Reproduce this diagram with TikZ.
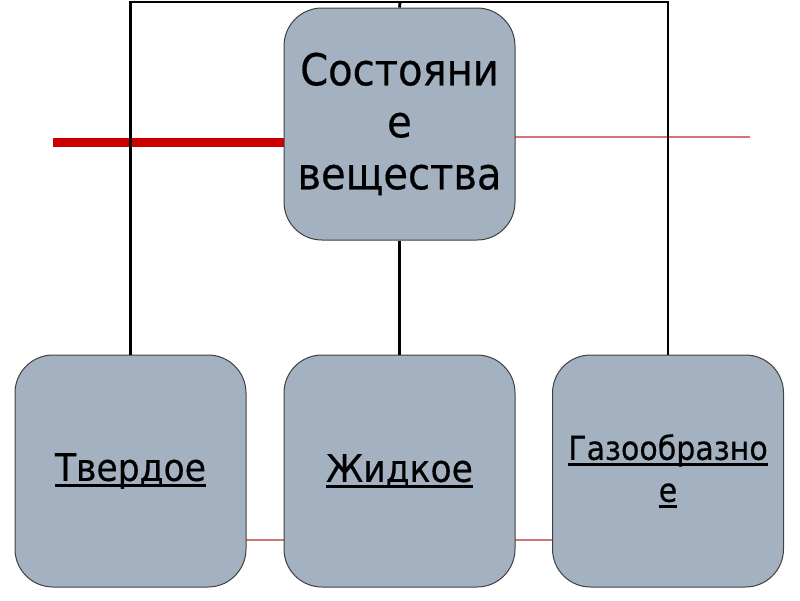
\documentclass[tikz,border=0pt]{standalone}
\usepackage{fontspec}
\newfontfamily\boxfont[FakeStretch=0.91, FakeBold=0.4]{DejaVu Sans}
\usepackage{tikz}
\usetikzlibrary{positioning, calc}

\definecolor{boxfill}{HTML}{A3B1C0}
\definecolor{boxline}{HTML}{404040}
\definecolor{thickred}{HTML}{CC0000}
\definecolor{thinred}{HTML}{D47474}

% underline with a heavier rule
\newcommand{\ulword}[1]{\setbox0\hbox{#1}\rlap{\copy0}\rule[-6pt]{\wd0}{3pt}}

\begin{document}
\begin{tikzpicture}[
		x=1pt, y=-1pt,
		statebox/.style={draw=boxline, line width=1pt, fill=boxfill, rounded corners=38pt,
			minimum width=231pt, minimum height=232pt, inner sep=0pt, align=center},
		link/.style={black, line width=2.8pt},
		redthick/.style={thickred, line width=9pt},
		redthin/.style={thinred, line width=1.4pt}
		]
		\useasboundingbox (0,0) rectangle (800,600);
		
		% === HELPER COORDINATES ===
		\coordinate (bus) at (400,2);
		\coordinate (redL) at (53,142);
		\coordinate (redR) at (750,137);
		\coordinate (redB) at (0,540);
		
		% === RED LINES (behind boxes) ===
		\draw[redthick] (redL) -- (redL -| 284,0);
		\draw[redthin] (redR -| 515,0) -- (redR);
		\draw[redthin] (redB -| 246,0) -- (redB -| 284,0);
		\draw[redthin] (redB -| 515,0) -- (redB -| 553,0);
		
		% === NODES ===
		
		% Top box
		\node [statebox, font=\boxfont\fontsize{44}{52}\selectfont] (state) at (399.5,124)
		{Состояни\\е\\вещества};
		
		% Bottom row
		\node [statebox, font=\boxfont\fontsize{38}{46}\selectfont] (solid) at (130.5,471)
		{\ulword{Твердое}};
		\node [statebox, font=\boxfont\fontsize{38}{46}\selectfont] (liquid) at (399.5,471)
		{\ulword{Жидкое}};
		\node [statebox, font=\boxfont\fontsize{33}{42}\selectfont] (gas) at (668,471)
		{\ulword{Газообразно}\\\ulword{е}};
		
		% === CONNECTORS ===
		\draw[link] (state.north) -- (bus);
		\draw[link] (solid.north) |- (bus) -| (gas.north);
		\draw[link] (state.south) -- (liquid.north);
		
	\end{tikzpicture}
\end{document}
